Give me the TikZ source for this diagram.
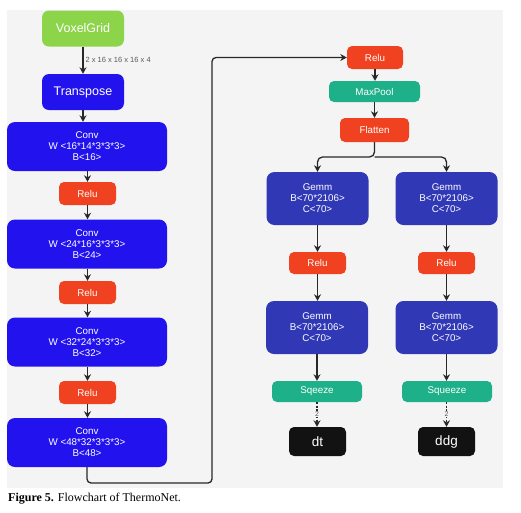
\documentclass[tikz,border=0pt]{standalone}
\usepackage{fontspec}
\setmainfont{Liberation Sans}
\newfontfamily\capfont{Liberation Serif}
\usetikzlibrary{arrows.meta}
\definecolor{convblue}{RGB}{34,18,238}
\definecolor{gemmblue}{RGB}{48,56,182}
\definecolor{relured}{RGB}{240,66,32}
\definecolor{teal}{RGB}{30,176,136}
\definecolor{vgreen}{RGB}{140,212,74}
\definecolor{panel}{RGB}{244,244,244}
\definecolor{linegray}{RGB}{40,40,40}
\begin{document}
\begin{tikzpicture}[x=1pt,y=-1pt,
  box/.style={rounded corners=5pt, text=white, align=center, inner sep=0pt, font=\fontsize{9.8}{11}\selectfont},
  convbox/.style={box, rounded corners=8pt, fill=convblue, minimum width=160pt, minimum height=49pt},
  gemmbox/.style={box, rounded corners=8pt, fill=gemmblue, minimum width=102pt, minimum height=53pt},
  relubox/.style={box, fill=relured, minimum width=57pt, minimum height=23pt},
  tealbox/.style={box, fill=teal, minimum width=90pt, minimum height=21pt},
  outbox/.style={box, fill=black!93, minimum width=57pt, minimum height=29pt, font=\fontsize{13.5}{15}\selectfont},
  bigbox/.style={box, rounded corners=7pt, minimum width=82pt, minimum height=36pt, font=\fontsize{12.5}{14}\selectfont},
  arr/.style={-{Stealth[length=6.5pt,width=7pt]}, line width=1.3pt, draw=linegray},
  lbl/.style={font=\fontsize{7.5}{8}\selectfont, text=black!65, inner sep=1pt}
]
\useasboundingbox (0,0) rectangle (521,512);
\fill[white] (0,0) rectangle (521,512);
\fill[panel] (7,10) rectangle (503,488);

% left column
\node[bigbox, fill=vgreen] (vox) at (83,28.5) {VoxelGrid};
\node[bigbox, fill=convblue] (trans) at (83,92) {Transpose};
\node[convbox] (conv1) at (87,146.5) {Conv\\W <16*14*3*3*3>\\B<16>};
\node[relubox] (relu1) at (87.5,193.5) {Relu};
\node[convbox] (conv2) at (87,244) {Conv\\W <24*16*3*3*3>\\B<24>};
\node[relubox] (relu2) at (87.5,292.5) {Relu};
\node[convbox] (conv3) at (87,342) {Conv\\W <32*24*3*3*3>\\B<32>};
\node[relubox] (relu3) at (87.5,392.5) {Relu};
\node[convbox] (conv4) at (87,442.5) {Conv\\W <48*32*3*3*3>\\B<48>};

% right column
\node[relubox, minimum width=56pt] (reluT) at (375,57.5) {Relu};
\node[tealbox, minimum width=91pt] (maxpool) at (374.5,91.5) {MaxPool};
\node[relubox, minimum width=69pt, minimum height=24pt] (flatten) at (374.5,130) {Flatten};
\node[gemmbox] (gemmL1) at (317.5,198.5) {Gemm\\B<70*2106>\\C<70>};
\node[gemmbox] (gemmR1) at (446.5,198.5) {Gemm\\B<70*2106>\\C<70>};
\node[relubox, minimum height=22pt] (reluL) at (317.5,263) {Relu};
\node[relubox, minimum height=22pt] (reluR) at (446.5,263) {Relu};
\node[gemmbox] (gemmL2) at (317,327.5) {Gemm\\B<70*2106>\\C<70>};
\node[gemmbox] (gemmR2) at (446.5,327.5) {Gemm\\B<70*2106>\\C<70>};
\node[tealbox] (sqL) at (317,391.5) {Sqeeze};
\node[tealbox] (sqR) at (447,391.5) {Squeeze};
\node[outbox] (dt) at (317.5,441.5) {dt};
\node[outbox] (ddg) at (446.5,441.5) {ddg};

% connectors left
\draw[arr] (vox.south) -- node[lbl, right=1pt, pos=0.5] {2 x 16 x 16 x 16 x 4} (trans.north);
\draw[arr] (trans.south) -- (conv1.north -| trans.south);
\draw[arr] (conv1.south -| relu1.north) -- (relu1.north);
\draw[arr] (relu1.south) -- (conv2.north -| relu1.south);
\draw[arr] (conv2.south -| relu2.north) -- (relu2.north);
\draw[arr] (relu2.south) -- (conv3.north -| relu2.south);
\draw[arr] (conv3.south -| relu3.north) -- (relu3.north);
\draw[arr] (relu3.south) -- (conv4.north -| relu3.south);

% feedback
\coordinate (fb) at (212,483);
\draw[arr, rounded corners=4pt] (conv4.south) |- (fb) |- (reluT.west);

% right connectors
\draw[arr] (reluT.south) -- (maxpool.north -| reluT.south);
\draw[arr] (maxpool.south -| flatten.north) -- (flatten.north);
\coordinate (split) at (374.5,157);
\draw[arr, rounded corners=5pt] (flatten.south) -- (split) -| (gemmL1.north);
\draw[arr, rounded corners=5pt] (split) -| (gemmR1.north);
\draw[arr] (gemmL1.south -| reluL.north) -- (reluL.north);
\draw[arr] (gemmR1.south) -- (reluR.north);
\draw[arr] (reluL.south) -- (gemmL2.north -| reluL.south);
\draw[arr] (reluR.south) -- (gemmR2.north);
\draw[arr] (gemmL2.south) -- (sqL.north);
\draw[arr] (gemmR2.south) -- (sqR.north -| gemmR2.south);
\draw[arr, dash pattern=on 2pt off 1.5pt] (sqL.south) -- node[lbl, fill=panel, inner sep=0.5pt, font=\fontsize{7}{7}\selectfont] {2} (dt.north -| sqL.south);
\draw[arr, dash pattern=on 2pt off 1.5pt] (sqR.south -| ddg.north) -- node[lbl, fill=panel, inner sep=0.5pt, font=\fontsize{7}{7}\selectfont] {2} (ddg.north);

% caption
\node[anchor=base west, inner sep=0pt, font=\capfont\fontsize{12}{14}\selectfont] (cap) at (8,501) {\textbf{Figure 5.} Flowchart of ThermoNet.};
\end{tikzpicture}
\end{document}
